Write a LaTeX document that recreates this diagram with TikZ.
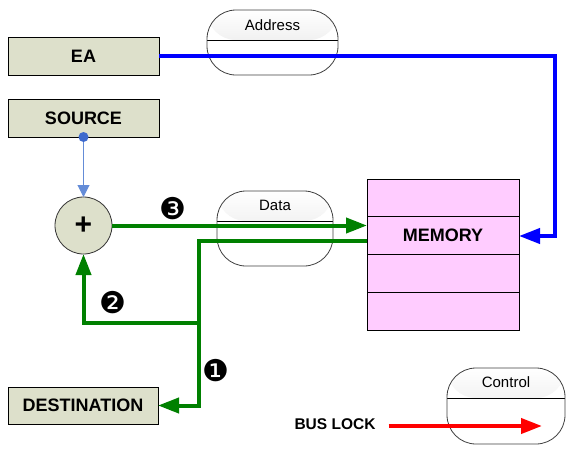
\documentclass[tikz,border=0pt]{standalone}
\usepackage{fontspec}
\setmainfont{Liberation Sans}
\newfontfamily\dejavu{DejaVu Sans}
\usetikzlibrary{arrows.meta,calc}
\definecolor{boxfill}{RGB}{221,224,203}
\definecolor{memfill}{RGB}{255,204,255}
\definecolor{busgreen}{RGB}{0,128,0}
\definecolor{thinblue}{RGB}{100,140,215}
\definecolor{dotblue}{RGB}{60,105,205}
\tikzset{
 regbox/.style={draw=black, line width=0.8pt, fill=boxfill, minimum width=151pt, minimum height=38pt, inner sep=0pt, outer sep=0pt, font=\fontsize{18}{21}\selectfont\bfseries},
 memrow/.style={draw=black, line width=0.8pt, fill=memfill, minimum width=152pt, minimum height=37.75pt, inner sep=0pt, outer sep=0pt},
 bus/.style={draw=black!75, line width=0.8pt, rounded corners=29pt, fill=white, inner sep=0pt, outer sep=0pt,
   path picture={
     \shade[top color=white, bottom color=black!12] (path picture bounding box.north west) rectangle ([yshift=-30pt]path picture bounding box.north east);
     \draw[black, line width=0.8pt] ([yshift=-30pt]path picture bounding box.north west) -- ([yshift=-30pt]path picture bounding box.north east);
   }},
 buslabel/.style={font=\fontsize{15}{18}\selectfont, inner sep=0pt},
 thickline/.style={line width=4pt},
 tip/.style={-{Triangle[length=21pt,width=15pt]}},
 stepnum/.style={font=\dejavu\fontsize{30}{32}\selectfont, inner sep=0pt},
}
\begin{document}
\begin{tikzpicture}[x=1pt,y=-1pt]
\useasboundingbox (0,0) rectangle (578,458);
% buses
\node[bus, minimum width=131pt, minimum height=65pt] (addr) at (272.5,42.5) {};
\node[buslabel] (addrtxt) at ([yshift=-15pt]addr.north) {Address};
\node[bus, minimum width=116pt, minimum height=75pt] (data) at (275,228.5) {};
\node[buslabel] (datatxt) at ([yshift=-14pt]data.north) {Data};
\node[bus, minimum width=118pt, minimum height=76pt] (ctrl) at (506,406) {};
\node[buslabel] (ctrltxt) at ([yshift=-14pt]ctrl.north) {Control};
% registers
\node[regbox] (ea) at (83.5,56) {EA};
\node[regbox] (source) at (83.5,118) {SOURCE};
\node[regbox, minimum width=150pt, minimum height=37pt] (dest) at (83,405.5) {DESTINATION};
\node[circle, draw=black!80, line width=0.8pt, fill=boxfill, minimum size=57pt, inner sep=0pt, outer sep=0pt, font=\fontsize{30}{32}\selectfont\bfseries] (plus) at (83.5,225.5) {+};
% memory
\node[memrow] (mem1) at (443,198) {};
\node[memrow] (mem2) at (443,235.75) {};
\node[memrow] (mem3) at (443,273.5) {};
\node[memrow] (mem4) at (443,311.25) {};
\node[font=\fontsize{18}{21}\selectfont\bfseries] (memtxt) at (mem2.center) {MEMORY};
% address bus
\coordinate (acorner) at (555,236);
\draw[blue, thickline, tip] (ea.east) -| (acorner) -- (mem2.east |- acorner);
% source to adder
\draw[thinblue, line width=1pt, -{Triangle[length=12pt,width=12pt]}] (source.south) -- (plus.north);
\fill[dotblue] (source.south) circle (5pt);
% data paths
\draw[busgreen, thickline, tip] (plus.east) -- (plus.east -| mem2.west);
\coordinate (jn) at (199,323);
\draw[busgreen, thickline, tip] ([yshift=-5.5pt]mem2.west) -| (jn) |- (dest.east);
\draw[busgreen, thickline, tip] (jn) -| (plus.south);
% step numbers
\node[stepnum] (n3) at (173,209) {❸};
\node[stepnum] (n2) at (113,303) {❷};
\node[stepnum] (n1) at (215.5,371) {❶};
% bus lock
\node[font=\fontsize{15.5}{18}\selectfont\bfseries, inner sep=0pt] (buslock) at (335,424) {BUS LOCK};
\coordinate (lockend) at (542,426);
\draw[red, thickline, tip] ([xshift=13pt]buslock.east |- lockend) -- (lockend);
\end{tikzpicture}
\end{document}
